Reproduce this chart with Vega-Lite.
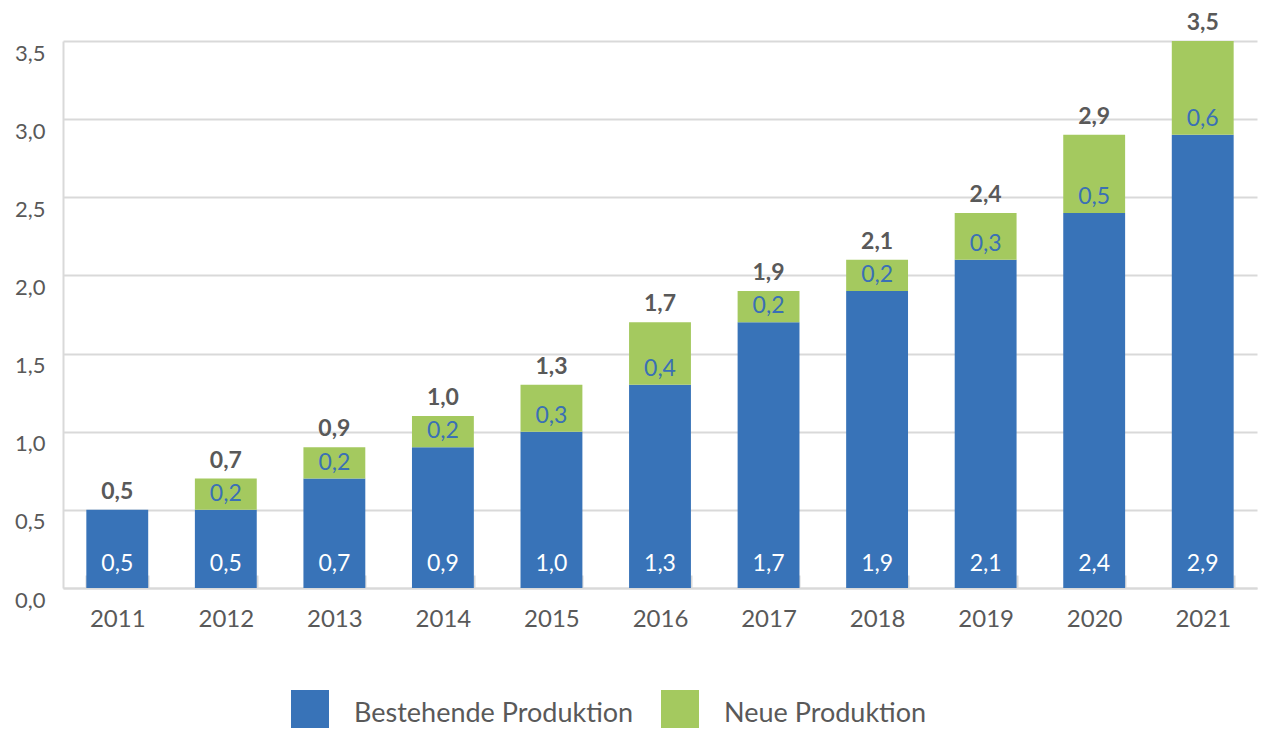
{
  "$schema": "https://vega.github.io/schema/vega-lite/v6.json",
  "width": 1194,
  "height": 547,
  "autosize": {"type": "none"},
  "padding": {"left": 63, "top": 41, "right": 5, "bottom": 143},
  "config": {
    "locale": {"number": {"decimal": ",", "thousands": ".", "grouping": [3], "currency": ["", " €"]}},
    "view": {"stroke": null},
    "font": "Lato",
    "text": {"font": "Lato"}
  },
  "datasets": {
    "seg": [
      {"year": "2011", "series": "Bestehende Produktion", "value": 0.5},
      {"year": "2012", "series": "Bestehende Produktion", "value": 0.5},
      {"year": "2013", "series": "Bestehende Produktion", "value": 0.7},
      {"year": "2014", "series": "Bestehende Produktion", "value": 0.9},
      {"year": "2015", "series": "Bestehende Produktion", "value": 1.0},
      {"year": "2016", "series": "Bestehende Produktion", "value": 1.3},
      {"year": "2017", "series": "Bestehende Produktion", "value": 1.7},
      {"year": "2018", "series": "Bestehende Produktion", "value": 1.9},
      {"year": "2019", "series": "Bestehende Produktion", "value": 2.1},
      {"year": "2020", "series": "Bestehende Produktion", "value": 2.4},
      {"year": "2021", "series": "Bestehende Produktion", "value": 2.9},
      {"year": "2011", "series": "Neue Produktion", "value": 0},
      {"year": "2012", "series": "Neue Produktion", "value": 0.2},
      {"year": "2013", "series": "Neue Produktion", "value": 0.2},
      {"year": "2014", "series": "Neue Produktion", "value": 0.2},
      {"year": "2015", "series": "Neue Produktion", "value": 0.3},
      {"year": "2016", "series": "Neue Produktion", "value": 0.4},
      {"year": "2017", "series": "Neue Produktion", "value": 0.2},
      {"year": "2018", "series": "Neue Produktion", "value": 0.2},
      {"year": "2019", "series": "Neue Produktion", "value": 0.3},
      {"year": "2020", "series": "Neue Produktion", "value": 0.5},
      {"year": "2021", "series": "Neue Produktion", "value": 0.6}
    ],
    "tot": [
      {"year": "2011", "total": 0.5},
      {"year": "2012", "total": 0.7},
      {"year": "2013", "total": 0.9},
      {"year": "2014", "total": 1.0},
      {"year": "2015", "total": 1.3},
      {"year": "2016", "total": 1.7},
      {"year": "2017", "total": 1.9},
      {"year": "2018", "total": 2.1},
      {"year": "2019", "total": 2.4},
      {"year": "2020", "total": 2.9},
      {"year": "2021", "total": 3.5}
    ]
  },
  "layer": [
    {
      "data": {"name": "seg"},
      "mark": {"type": "bar"},
      "encoding": {
        "x": {
          "field": "year", "type": "ordinal",
          "scale": {"paddingInner": 0.43, "paddingOuter": 0.215},
          "axis": {
            "title": null, "orient": "bottom", "labelAngle": 0, "ticks": true,
            "tickBand": "extent", "tickSize": -13, "tickColor": "#d9d9d9", "tickWidth": 2,
            "labelFontSize": 24, "labelColor": "#595959", "labelPadding": 32,
            "domainColor": "#d9d9d9", "domainWidth": 2, "labelFont": "Lato"
          }
        },
        "y": {
          "field": "value", "type": "quantitative", "stack": "zero",
          "scale": {"domain": [0, 3.5], "nice": false},
          "axis": {
            "title": null, "values": [0, 0.5, 1, 1.5, 2, 2.5, 3, 3.5], "format": ".1f",
            "ticks": false, "labelFontSize": 22, "labelColor": "#595959", "labelPadding": 18,
            "labelOffset": 12,
            "gridColor": "#d9d9d9", "gridWidth": 2, "domainColor": "#d9d9d9", "domainWidth": 2,
            "labelFont": "Lato"
          }
        },
        "color": {
          "field": "series", "type": "nominal",
          "scale": {"domain": ["Bestehende Produktion", "Neue Produktion"], "range": ["#3873b8", "#a4c95f"]},
          "legend": {
            "title": null, "orient": "none", "direction": "horizontal",
            "legendX": 228, "legendY": 649,
            "symbolType": "square", "symbolSize": 1444, "symbolStrokeWidth": 0,
            "symbolOpacity": 1, "labelLimit": 400,
            "labelFontSize": 27, "labelColor": "#595959", "labelFont": "Lato",
            "columnPadding": 27, "labelOffset": 25,
            "encode": {"labels": {"update": {"dy": {"value": 5}}}}
          }
        },
        "order": {"field": "series"}
      }
    },
    {
      "data": {"name": "seg"},
      "transform": [
        {"stack": "value", "groupby": ["year"], "sort": [{"field": "series"}], "as": ["v0", "v1"]},
        {"filter": "datum.series == 'Bestehende Produktion'"}
      ],
      "mark": {"type": "text", "dy": -24, "fontSize": 23, "color": "#ffffff", "baseline": "middle"},
      "encoding": {
        "x": {"field": "year", "type": "ordinal"},
        "y": {"field": "v0", "type": "quantitative"},
        "text": {"field": "value", "type": "quantitative", "format": ".1f"}
      }
    },
    {
      "data": {"name": "seg"},
      "transform": [
        {"stack": "value", "groupby": ["year"], "sort": [{"field": "series"}], "as": ["v0", "v1"]},
        {"filter": "datum.series == 'Neue Produktion' && datum.value > 0"}
      ],
      "mark": {"type": "text", "dy": -16, "fontSize": 23, "color": "#3a70b5", "baseline": "middle"},
      "encoding": {
        "x": {"field": "year", "type": "ordinal"},
        "y": {"field": "v0", "type": "quantitative"},
        "text": {"field": "value", "type": "quantitative", "format": ".1f"}
      }
    },
    {
      "data": {"name": "seg"},
      "transform": [
        {"aggregate": [{"op": "sum", "field": "value", "as": "top"}], "groupby": ["year"]},
        {"lookup": "year", "from": {"data": {"name": "tot"}, "key": "year", "fields": ["total"]}}
      ],
      "mark": {"type": "text", "dy": -18, "fontSize": 23, "fontWeight": "bold", "color": "#595959", "baseline": "middle"},
      "encoding": {
        "x": {"field": "year", "type": "ordinal"},
        "y": {"field": "top", "type": "quantitative"},
        "text": {"field": "total", "type": "quantitative", "format": ".1f"}
      }
    }
  ]
}
